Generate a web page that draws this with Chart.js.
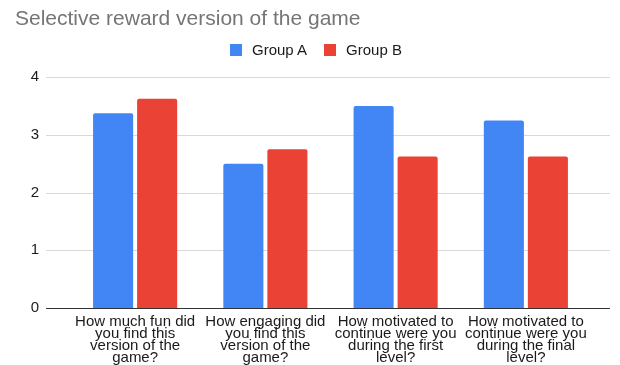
<!DOCTYPE html>
<html>
<head>
<meta charset="utf-8">
<script src="https://cdn.jsdelivr.net/npm/chart.js@4"></script>
<style>
  body { margin: 0; background: #fff; }
  #wrap { position: relative; width: 620px; height: 365px; }
  #legend { position: absolute; left: 230px; top: 41px; font: 15px "Liberation Sans", Arial, sans-serif; line-height: 17px; color: #1a1a1a; display: flex; }
  #legend span.item { display: flex; align-items: center; margin-right: 17px; }
  #legend span.box { width: 12px; height: 12px; margin-right: 10px; }
</style>
</head>
<body>
<div id="wrap">
  <canvas id="reward-chart" width="620" height="365"></canvas>
  <div id="legend"></div>
</div>
<script>
const questions = [
    ['How much fun did', 'you find this', 'version of the', 'game?'],
    ['How engaging did', 'you find this', 'version of the', 'game?'],
    ['How motivated to', 'continue were you', 'during the first', 'level?'],
    ['How motivated to', 'continue were you', 'during the final', 'level?']
];
const groupA = [3.375, 2.5, 3.5, 3.25];
const groupB = [3.625, 2.75, 2.625, 2.625];
const yTicks = [0, 1, 2, 3, 4];

const fontFamily = '"Liberation Sans", Arial, sans-serif';

// grid lines run wider than the plot area, baseline drawn darker
const wideGrid = {
    id: 'wideGrid',
    beforeDatasetsDraw(chart) {
        const ctx = chart.ctx;
        const y = chart.scales.y;
        ctx.save();
        yTicks.forEach(t => {
            const py = Math.round(y.getPixelForValue(t)) + 0.5;
            ctx.strokeStyle = t === 0 ? '#333333' : '#d9d9d9';
            ctx.lineWidth = 1;
            ctx.beginPath();
            ctx.moveTo(46, py);
            ctx.lineTo(610, py);
            ctx.stroke();
        });
        ctx.restore();
    }
};

const rewardChart = new Chart(document.getElementById('reward-chart'), {
    type: 'bar',
    data: {
        labels: questions,
        datasets: [{
            label: 'Group A',
            data: groupA,
            backgroundColor: '#4285f4',
            borderRadius: 2,
            borderSkipped: 'bottom'
        }, {
            label: 'Group B',
            data: groupB,
            backgroundColor: '#ea4335',
            borderRadius: 2,
            borderSkipped: 'bottom'
        }]
    },
    options: {
        responsive: false,
        animation: false,
        categoryPercentage: 0.676,
        barPercentage: 0.91,
        layout: {
            padding: { left: 15, right: 29, top: 0, bottom: 0 }
        },
        plugins: {
            legend: { display: false },
            tooltip: { enabled: false },
            title: {
                display: true,
                text: 'Selective reward version of the game',
                align: 'start',
                color: '#757575',
                font: { family: fontFamily, size: 21, weight: 'normal' },
                padding: { top: 7, bottom: 45 }
            }
        },
        scales: {
            x: {
                grid: { display: false },
                border: { display: false },
                ticks: {
                    color: '#1a1a1a',
                    maxRotation: 0,
                    autoSkip: false,
                    padding: 0,
                    font: { family: fontFamily, size: 15, lineHeight: 0.8 }
                },
                afterFit(scale) { scale.height = 57; }
            },
            y: {
                min: 0,
                max: 4,
                grid: { display: false },
                border: { display: false },
                ticks: {
                    stepSize: 1,
                    color: '#1a1a1a',
                    padding: 23,
                    font: { family: fontFamily, size: 15 }
                },
                afterFit(scale) { scale.width = 55; }
            }
        }
    },
    plugins: [wideGrid]
});

// legend built from the datasets
const legendEl = document.getElementById('legend');
rewardChart.data.datasets.forEach(ds => {
    const item = document.createElement('span');
    item.className = 'item';
    const box = document.createElement('span');
    box.className = 'box';
    box.style.background = ds.backgroundColor;
    item.appendChild(box);
    item.appendChild(document.createTextNode(ds.label));
    legendEl.appendChild(item);
});
</script>
</body>
</html>
